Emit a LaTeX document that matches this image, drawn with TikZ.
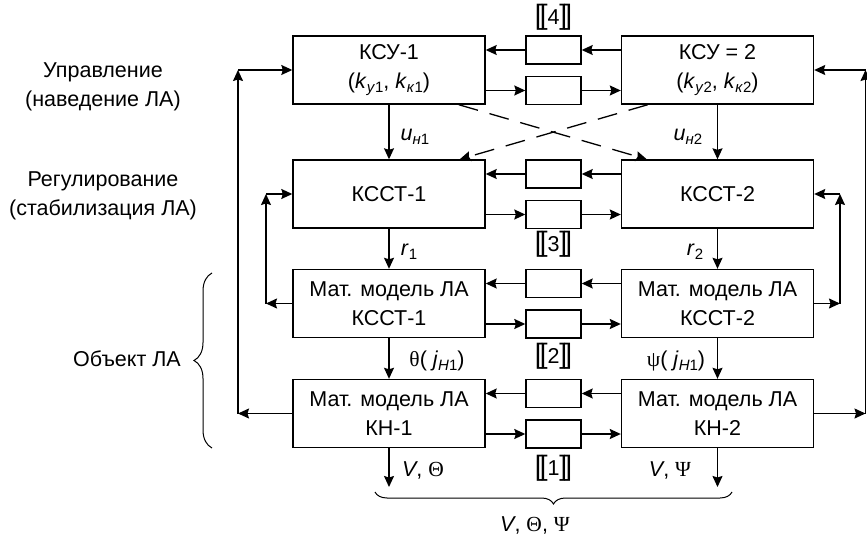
\documentclass[tikz,border=0pt]{standalone}
\usepackage{fontspec}
\setmainfont{Liberation Sans}
\newfontfamily\grk{Liberation Serif}
\usetikzlibrary{arrows.meta,calc,decorations.pathreplacing}
\newcommand\sbs[1]{\raisebox{-0.35ex}{\fontsize{15}{15}\selectfont #1}}
\newcommand\dbr[1]{{\fontsize{28}{28}\selectfont[\kern-0.1em[}#1{\fontsize{28}{28}\selectfont]\kern-0.1em]}}
\begin{document}
\begin{tikzpicture}[x=1pt,y=-1pt,
  font=\fontsize{21.5}{28.5}\selectfont,
  big/.style={draw,line width=1.4pt,minimum width=192pt,minimum height=68pt,align=center,inner sep=0pt},
  small/.style={draw,line width=1.4pt,minimum width=55pt,minimum height=28pt,inner sep=0pt},
  arr/.style={line width=1.3pt,-{Stealth[length=11pt,width=10pt,inset=1.5pt]}},
  dsh/.style={arr,dash pattern=on 20pt off 12pt},
  lab/.style={inner sep=0pt,align=center},
  brc/.style={decorate,line width=1pt},
]
\useasboundingbox (0,0) rectangle (867,537);

% main boxes
\node[big] (ksu1) at (389,70) {КСУ-1\\(\textit{k}\sbs{\textit{у}1}, \textit{k}\sbs{\textit{к}1})};
\node[big] (ksu2) at (717.5,70) {КСУ = 2\\(\textit{k}\sbs{\textit{у}2}, \textit{k}\sbs{\textit{к}2})};
\node[big] (kst1) at (389,194) {КССТ-1};
\node[big] (kst2) at (717.5,194) {КССТ-2};
\node[big] (mm1) at (389,303.5) {Мат. модель ЛА\\КССТ-1};
\node[big] (mm2) at (717.5,303.5) {Мат. модель ЛА\\КССТ-2};
\node[big] (kn1) at (389,413.5) {Мат. модель ЛА\\КН-1};
\node[big] (kn2) at (717.5,413.5) {Мат. модель ЛА\\КН-2};

% small boxes
\node[small] (s4a) at (553.5,50) {};
\node[small] (s4b) at (553.5,90.5) {};
\node[small] (s3a) at (553.5,174) {};
\node[small] (s3b) at (553.5,214.5) {};
\node[small] (s2a) at (553.5,283.5) {};
\node[small] (s2b) at (553.5,324) {};
\node[small] (s1a) at (553.5,393.5) {};
\node[small] (s1b) at (553.5,434) {};

\node[lab] (n4) at (553.5,17) {\dbr{4}};
\node[lab] (n3) at (553.5,244) {\dbr{3}};
\node[lab] (n2) at (553.5,356) {\dbr{2}};
\node[lab] (n1) at (553.5,468) {\dbr{1}};

% connections through small boxes
\foreach \a/\b/\l/\r in {s4a/s4b/ksu1/ksu2, s3a/s3b/kst1/kst2, s2a/s2b/mm1/mm2, s1a/s1b/kn1/kn2}{
  \draw[arr] (\r.west |- \a) -- (\a.east);
  \draw[arr] (\a.west) -- (\l.east |- \a);
  \draw[arr] (\l.east |- \b) -- (\b.west);
  \draw[arr] (\b.east) -- (\r.west |- \b);
}

% vertical flow
\draw[arr] (ksu1) -- (kst1);
\draw[arr] (ksu2) -- (kst2);
\draw[arr] (kst1) -- (mm1);
\draw[arr] (kst2) -- (mm2);
\draw[arr] (mm1) -- (kn1);
\draw[arr] (mm2) -- (kn2);
\coordinate (o1) at (389,487);
\coordinate (o2) at (717.5,487);
\draw[arr] (kn1) -- (o1);
\draw[arr] (kn2) -- (o2);

% dashed cross
\draw[dsh] ($(ksu1.south east)+(-27,0)$) -- ($(kst2.north west)+(26,0)$);
\draw[dsh] ($(ksu2.south west)+(27,0)$) -- ($(kst1.north east)+(-26,0)$);

% loops
\coordinate (L1) at (238,413.5);
\coordinate (L1t) at (238,70);
\draw[arr] (kn1.west) -- (L1);
\draw[arr] (L1) -- (L1t);
\draw[arr] (L1t) -- (ksu1.west);
\coordinate (L2) at (266,303.5);
\coordinate (L2t) at (266,194);
\draw[arr] (mm1.west) -- (L2);
\draw[arr] (L2) -- (L2t);
\draw[arr] (L2t) -- (kst1.west);
\coordinate (R2) at (840,303.5);
\coordinate (R2t) at (840,194);
\draw[arr] (mm2.east) -- (R2);
\draw[arr] (R2) -- (R2t);
\draw[arr] (R2t) -- (kst2.east);
\coordinate (R1) at (865.5,413.5);
\coordinate (R1t) at (865.5,70);
\draw[arr] (kn2.east) -- (R1);
\draw[arr] (R1) -- (R1t);
\draw[arr] (R1t) -- (ksu2.east);

% signal labels
\node[lab] (u1) at (415,137) {\textit{u}\sbs{\textit{н}1}};
\node[lab] (u2) at (688,137) {\textit{u}\sbs{\textit{н}2}};
\node[lab] (r1) at (409,252) {\textit{r}\sbs{1}};
\node[lab] (r2) at (695,252) {\textit{r}\sbs{2}};
\node[lab] (th) at (437,361) {{\grk θ}( \textit{j}\sbs{\textit{H}1})};
\node[lab] (ps) at (676,361) {{\grk ψ}( \textit{j}\sbs{\textit{H}1})};
\node[lab] (v1) at (423,470) {\textit{V}, {\grk Θ}};
\node[lab] (v2) at (670,470) {\textit{V}, {\grk Ψ}};
\node[lab] (v3) at (535,525) {\textit{V}, {\grk Θ}, {\grk Ψ}};

% side labels
\node[lab] (t1) at (103,87) {Управление\\(наведение ЛА)};
\node[lab] (t2) at (103,196) {Регулирование\\(стабилизация ЛА)};
\node[lab] (t3) at (127,359) {Объект ЛА};

% braces
\coordinate (b1a) at (212,448);
\coordinate (b1b) at (212,273);
\draw[brc,decoration={brace,amplitude=18pt}] (b1a) -- (b1b);
\coordinate (b2a) at (732,492);
\coordinate (b2b) at (375,492);
\draw[brc,decoration={brace,amplitude=12pt}] (b2a) -- (b2b);
\end{tikzpicture}
\end{document}
